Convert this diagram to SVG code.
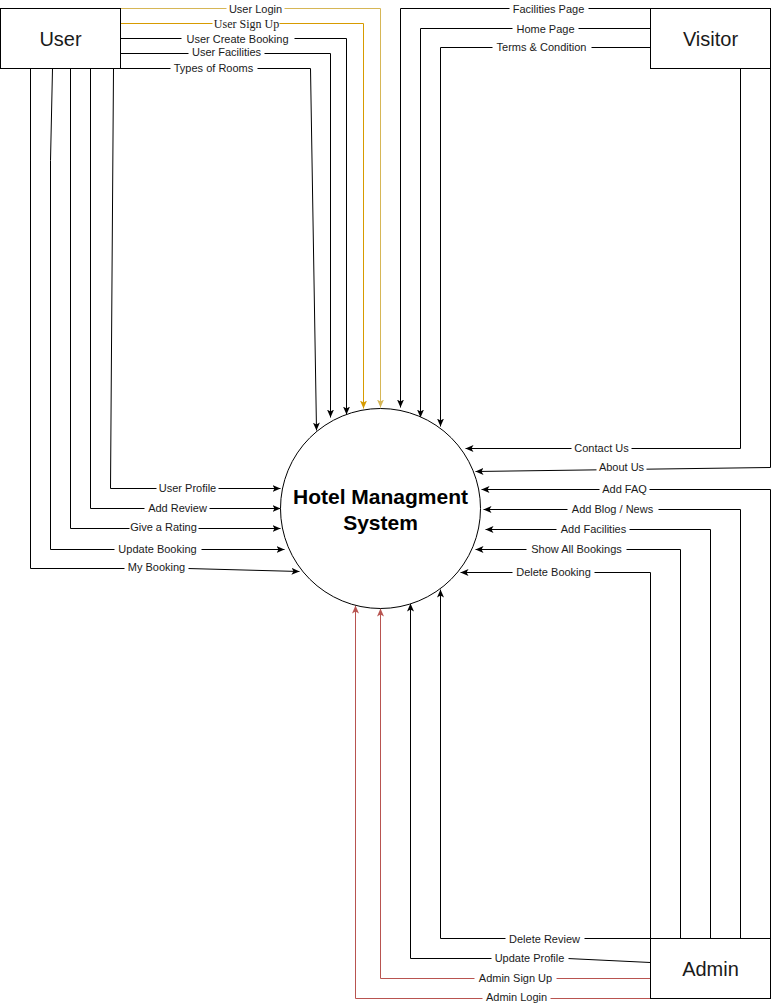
<svg xmlns="http://www.w3.org/2000/svg" width="779" height="1007" viewBox="0 0 779 1007">
<style>
.box{fill:#fff;stroke:#000;stroke-width:1}
.nt{font-family:"Liberation Sans",Arial,sans-serif;font-size:20px;fill:#1a1a1a;text-anchor:middle}
.ct{font-family:"Liberation Sans",Arial,sans-serif;font-size:21px;font-weight:bold;fill:#000;text-anchor:middle}
.e{fill:none;stroke:#000;stroke-width:1;marker-end:url(#ab)}
.eo{fill:none;stroke:#d79b00;stroke-width:1;marker-end:url(#ao)}
.el{fill:none;stroke:#d6b656;stroke-width:1;marker-end:url(#al)}
.er{fill:none;stroke:#b85450;stroke-width:1;marker-end:url(#ar)}
.lb{fill:#fff;stroke:none}
.lt{font-family:"Liberation Sans",Arial,sans-serif;font-size:11px;fill:#1a1a1a;text-anchor:middle}
.ls{font-family:"Liberation Serif","Times New Roman",serif;font-size:12px;fill:#1a1a1a;text-anchor:middle}
</style>
<defs>
<marker id="ab" viewBox="0 0 8 7" refX="8" refY="3.5" markerWidth="8" markerHeight="7" markerUnits="userSpaceOnUse" orient="auto"><path d="M0,0 L8,3.5 L0,7 L2,3.5 Z" fill="#000"/></marker>
<marker id="ao" viewBox="0 0 8 7" refX="8" refY="3.5" markerWidth="8" markerHeight="7" markerUnits="userSpaceOnUse" orient="auto"><path d="M0,0 L8,3.5 L0,7 L2,3.5 Z" fill="#d79b00"/></marker>
<marker id="al" viewBox="0 0 8 7" refX="8" refY="3.5" markerWidth="8" markerHeight="7" markerUnits="userSpaceOnUse" orient="auto"><path d="M0,0 L8,3.5 L0,7 L2,3.5 Z" fill="#d6b656"/></marker>
<marker id="ar" viewBox="0 0 8 7" refX="8" refY="3.5" markerWidth="8" markerHeight="7" markerUnits="userSpaceOnUse" orient="auto"><path d="M0,0 L8,3.5 L0,7 L2,3.5 Z" fill="#b85450"/></marker>
</defs>
<rect width="779" height="1007" fill="#fff"/>
<g transform="translate(0.5,0.5)">
<g id="connectors">
<!-- User -->
<g id="e-user-login"><path class="el" d="M120,8 H380 V407"/><rect class="lb" x="226" y="2" width="58" height="13"/><text class="lt" x="255" y="12">User Login</text></g>
<g id="e-user-signup"><path class="eo" d="M120,23 H363 V408"/><rect class="lb" x="212" y="16" width="67" height="14"/><text class="ls" x="246" y="27">User Sign Up</text></g>
<g id="e-user-create"><path class="e" d="M120,38 H346 V414"/><rect class="lb" x="181" y="32" width="113" height="13"/><text class="lt" x="237" y="42">User Create Booking</text></g>
<g id="e-user-fac"><path class="e" d="M120,53 H330 V417"/><rect class="lb" x="188" y="45" width="76" height="13"/><text class="lt" x="226" y="55">User Facilities</text></g>
<g id="e-types"><path class="e" d="M120,68 H310 L316,430"/><rect class="lb" x="170" y="61" width="87" height="13"/><text class="lt" x="213" y="71">Types of Rooms</text></g>
<g id="e-profile"><path class="e" d="M113,68 L110,488 H280"/><rect class="lb" x="156" y="481" width="62" height="13"/><text class="lt" x="187" y="491">User Profile</text></g>
<g id="e-review"><path class="e" d="M90,68 V508 H280"/><rect class="lb" x="144" y="501" width="65" height="13"/><text class="lt" x="177" y="511">Add Review</text></g>
<g id="e-rating"><path class="e" d="M70,68 V528 H280"/><rect class="lb" x="129" y="520" width="69" height="13"/><text class="lt" x="163" y="530">Give a Rating</text></g>
<g id="e-update"><path class="e" d="M52,68 L50,160 V549 H284"/><rect class="lb" x="114" y="542" width="87" height="13"/><text class="lt" x="157" y="552">Update Booking</text></g>
<g id="e-mybooking"><path class="e" d="M30,68 V568 H187 L299,571"/><rect class="lb" x="124" y="560" width="64" height="13"/><text class="lt" x="156" y="570">My Booking</text></g>
<!-- Visitor -->
<g id="e-facpage"><path class="e" d="M650,8 H400 V407"/><rect class="lb" x="509" y="2" width="79" height="13"/><text class="lt" x="548" y="12">Facilities Page</text></g>
<g id="e-home"><path class="e" d="M650,28 H420 V417"/><rect class="lb" x="512" y="22" width="66" height="13"/><text class="lt" x="545" y="32">Home Page</text></g>
<g id="e-terms"><path class="e" d="M650,47 H440 V426"/><rect class="lb" x="492" y="40" width="99" height="13"/><text class="lt" x="541" y="50">Terms &amp; Condition</text></g>
<g id="e-contact"><path class="e" d="M740,68 V448 H465"/><rect class="lb" x="571" y="441" width="60" height="13"/><text class="lt" x="601" y="451">Contact Us</text></g>
<g id="e-about"><path class="e" d="M770,68 V467 L475,471"/><rect class="lb" x="596" y="460" width="50" height="13"/><text class="lt" x="621" y="470">About Us</text></g>
<!-- Admin -->
<g id="e-faq"><path class="e" d="M770,938 V489 H481"/><rect class="lb" x="599" y="482" width="50" height="13"/><text class="lt" x="624" y="492">Add FAQ</text></g>
<g id="e-blog"><path class="e" d="M740,938 V509 H483"/><rect class="lb" x="567" y="502" width="91" height="13"/><text class="lt" x="612" y="512">Add Blog / News</text></g>
<g id="e-addfac"><path class="e" d="M710,938 V529 H485"/><rect class="lb" x="556" y="522" width="73" height="13"/><text class="lt" x="593" y="532">Add Facilities</text></g>
<g id="e-showall"><path class="e" d="M680,938 V549 H475"/><rect class="lb" x="526" y="542" width="100" height="13"/><text class="lt" x="576" y="552">Show All Bookings</text></g>
<g id="e-delbook"><path class="e" d="M650,938 V572 H460"/><rect class="lb" x="512" y="565" width="82" height="13"/><text class="lt" x="553" y="575">Delete Booking</text></g>
<g id="e-delrev"><path class="e" d="M650,938 H440 V589"/><rect class="lb" x="505" y="932" width="79" height="13"/><text class="lt" x="544" y="942">Delete Review</text></g>
<g id="e-updprof"><path class="e" d="M650,962 L567,958 H410 V603"/><rect class="lb" x="491" y="951" width="77" height="13"/><text class="lt" x="529" y="961">Update Profile</text></g>
<g id="e-adminsignup"><path class="er" d="M650,978 H380 V608"/><rect class="lb" x="474" y="971" width="82" height="13"/><text class="lt" x="515" y="981">Admin Sign Up</text></g>
<g id="e-adminlogin"><path class="er" d="M650,998 H355 V605"/><rect class="lb" x="482" y="990" width="68" height="13"/><text class="lt" x="516" y="1000">Admin Login</text></g>
</g>
<g id="node-user"><rect class="box" x="0" y="8" width="120" height="60"/><text class="nt" x="60" y="45">User</text></g>
<g id="node-visitor"><rect class="box" x="650" y="8" width="120" height="60"/><text class="nt" x="710" y="45">Visitor</text></g>
<g id="node-admin"><rect class="box" x="650" y="938" width="120" height="60"/><text class="nt" x="710" y="975">Admin</text></g>
<g id="node-system"><circle cx="380" cy="508" r="100" fill="#fff" stroke="#000" stroke-width="1"/><text class="ct" x="380" y="503">Hotel Managment</text><text class="ct" x="380" y="529">System</text></g>
</g>
</svg>
